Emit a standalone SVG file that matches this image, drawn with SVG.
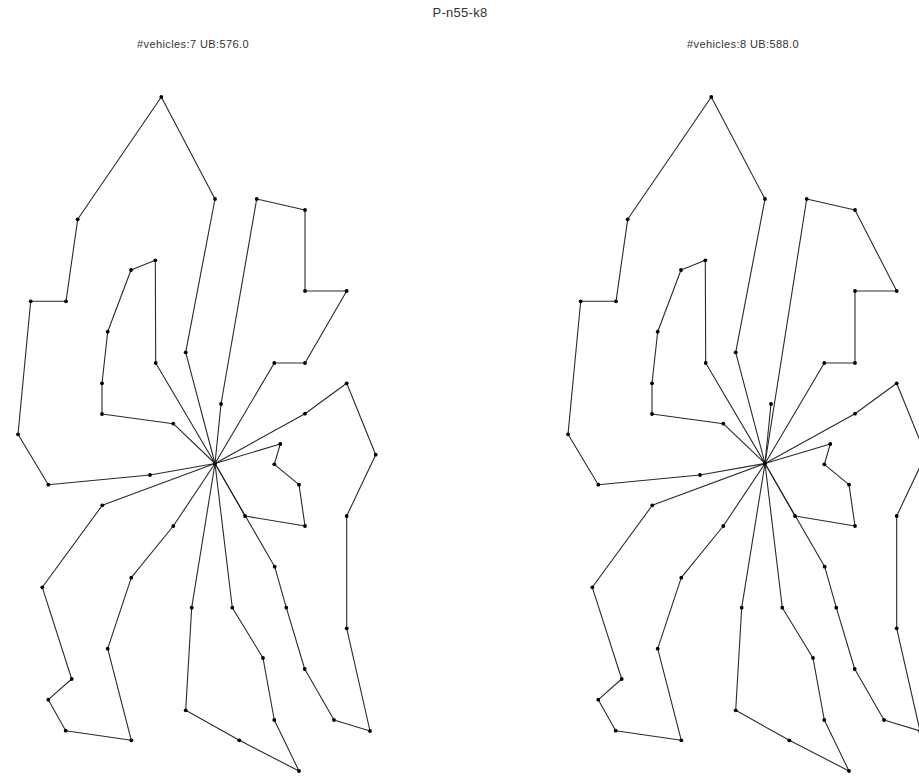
<svg xmlns="http://www.w3.org/2000/svg" xmlns:xlink="http://www.w3.org/1999/xlink" width="919" height="776" viewBox="0 0 919 776">
<style>
.r{fill:none;stroke:#2a2a2a;stroke-width:1.1;stroke-linejoin:round}
.t{font-family:"Liberation Sans",Arial,sans-serif;fill:#333;text-anchor:middle}
</style>
<defs>
<circle id="d" r="1.9" fill="#000"/>
</defs>
<rect width="919" height="776" fill="#fff"/>
<text class="t" x="460" y="17" font-size="13" letter-spacing="0.3">P-n55-k8</text>
<text class="t" x="193" y="48" font-size="11" letter-spacing="0.4">#vehicles:7 UB:576.0</text>
<text class="t" x="743" y="48" font-size="11" letter-spacing="0.4">#vehicles:8 UB:588.0</text>

<g id="plot-left">
<g id="connectors-left">
<polyline class="r" points="215,463.5 185.7,352.3 215,199 161.3,97 77.7,219.3 66,301.3 30.7,301.3 18,434.3 48.3,484.7 150,475 215,463.5"/>
<polyline class="r" points="215,463.5 173.3,423.7 102,414 102,383.3 107.7,331.7 131,270 155.3,260.3 155.7,363 215,463.5"/>
<polyline class="r" points="215,463.5 221,404 256.7,199 305,210 305,291 346.7,291 305,363 274.3,363 215,463.5"/>
<polyline class="r" points="215,463.5 274.7,566.7 286.3,607.7 304.7,669 334,720 370,731 346.7,628.3 346.7,516 375.7,454.7 346.7,383.3 305,413.7 215,463.5"/>
<polyline class="r" points="215,463.5 245,516 305,526 299,484.7 274.3,464.3 280.3,444 215,463.5"/>
<polyline class="r" points="215,463.5 232.3,607.7 263,658 274.3,720 299,771 239.3,740.3 185.7,710.3 191.7,607.7 215,463.5"/>
<polyline class="r" points="215,463.5 173.3,526 131.3,577.7 107.7,648.7 131.3,740.3 65.7,730.7 48.3,699.7 71.7,679 42.3,587.3 102.3,505.3 215,463.5"/>
</g>
<g id="nodes-left">
<g id="L0"><use xlink:href="#d" x="215" y="463.5"/></g>
<g id="L1"><use xlink:href="#d" x="185.7" y="352.3"/></g>
<g id="L2"><use xlink:href="#d" x="215" y="199"/></g>
<g id="L3"><use xlink:href="#d" x="161.3" y="97"/></g>
<g id="L4"><use xlink:href="#d" x="77.7" y="219.3"/></g>
<g id="L5"><use xlink:href="#d" x="66" y="301.3"/></g>
<g id="L6"><use xlink:href="#d" x="30.7" y="301.3"/></g>
<g id="L7"><use xlink:href="#d" x="18" y="434.3"/></g>
<g id="L8"><use xlink:href="#d" x="48.3" y="484.7"/></g>
<g id="L9"><use xlink:href="#d" x="150" y="475"/></g>
<g id="L10"><use xlink:href="#d" x="173.3" y="423.7"/></g>
<g id="L11"><use xlink:href="#d" x="102" y="414"/></g>
<g id="L12"><use xlink:href="#d" x="102" y="383.3"/></g>
<g id="L13"><use xlink:href="#d" x="107.7" y="331.7"/></g>
<g id="L14"><use xlink:href="#d" x="131" y="270"/></g>
<g id="L15"><use xlink:href="#d" x="155.3" y="260.3"/></g>
<g id="L16"><use xlink:href="#d" x="155.7" y="363"/></g>
<g id="L17"><use xlink:href="#d" x="221" y="404"/></g>
<g id="L18"><use xlink:href="#d" x="256.7" y="199"/></g>
<g id="L19"><use xlink:href="#d" x="305" y="210"/></g>
<g id="L20"><use xlink:href="#d" x="305" y="291"/></g>
<g id="L21"><use xlink:href="#d" x="346.7" y="291"/></g>
<g id="L22"><use xlink:href="#d" x="305" y="363"/></g>
<g id="L23"><use xlink:href="#d" x="274.3" y="363"/></g>
<g id="L24"><use xlink:href="#d" x="274.7" y="566.7"/></g>
<g id="L25"><use xlink:href="#d" x="286.3" y="607.7"/></g>
<g id="L26"><use xlink:href="#d" x="304.7" y="669"/></g>
<g id="L27"><use xlink:href="#d" x="334" y="720"/></g>
<g id="L28"><use xlink:href="#d" x="370" y="731"/></g>
<g id="L29"><use xlink:href="#d" x="346.7" y="628.3"/></g>
<g id="L30"><use xlink:href="#d" x="346.7" y="516"/></g>
<g id="L31"><use xlink:href="#d" x="375.7" y="454.7"/></g>
<g id="L32"><use xlink:href="#d" x="346.7" y="383.3"/></g>
<g id="L33"><use xlink:href="#d" x="305" y="413.7"/></g>
<g id="L34"><use xlink:href="#d" x="245" y="516"/></g>
<g id="L35"><use xlink:href="#d" x="305" y="526"/></g>
<g id="L36"><use xlink:href="#d" x="299" y="484.7"/></g>
<g id="L37"><use xlink:href="#d" x="274.3" y="464.3"/></g>
<g id="L38"><use xlink:href="#d" x="280.3" y="444"/></g>
<g id="L39"><use xlink:href="#d" x="232.3" y="607.7"/></g>
<g id="L40"><use xlink:href="#d" x="263" y="658"/></g>
<g id="L41"><use xlink:href="#d" x="274.3" y="720"/></g>
<g id="L42"><use xlink:href="#d" x="299" y="771"/></g>
<g id="L43"><use xlink:href="#d" x="239.3" y="740.3"/></g>
<g id="L44"><use xlink:href="#d" x="185.7" y="710.3"/></g>
<g id="L45"><use xlink:href="#d" x="191.7" y="607.7"/></g>
<g id="L46"><use xlink:href="#d" x="173.3" y="526"/></g>
<g id="L47"><use xlink:href="#d" x="131.3" y="577.7"/></g>
<g id="L48"><use xlink:href="#d" x="107.7" y="648.7"/></g>
<g id="L49"><use xlink:href="#d" x="131.3" y="740.3"/></g>
<g id="L50"><use xlink:href="#d" x="65.7" y="730.7"/></g>
<g id="L51"><use xlink:href="#d" x="48.3" y="699.7"/></g>
<g id="L52"><use xlink:href="#d" x="71.7" y="679"/></g>
<g id="L53"><use xlink:href="#d" x="42.3" y="587.3"/></g>
<g id="L54"><use xlink:href="#d" x="102.3" y="505.3"/></g>
</g>
</g>

<g id="plot-right" transform="translate(550,0)">
<g id="connectors-right">
<polyline class="r" points="215,463.5 185.7,352.3 215,199 161.3,97 77.7,219.3 66,301.3 30.7,301.3 18,434.3 48.3,484.7 150,475 215,463.5"/>
<polyline class="r" points="215,463.5 173.3,423.7 102,414 102,383.3 107.7,331.7 131,270 155.3,260.3 155.7,363 215,463.5"/>
<polyline class="r" points="215,463.5 256.7,199 305,210 346.7,291 305,291 305,363 274.3,363 215,463.5"/>
<polyline class="r" points="215,463.5 221,404 215,463.5"/>
<polyline class="r" points="215,463.5 274.7,566.7 286.3,607.7 304.7,669 334,720 370,731 346.7,628.3 346.7,516 375.7,454.7 346.7,383.3 305,413.7 215,463.5"/>
<polyline class="r" points="215,463.5 245,516 305,526 299,484.7 274.3,464.3 280.3,444 215,463.5"/>
<polyline class="r" points="215,463.5 232.3,607.7 263,658 274.3,720 299,771 239.3,740.3 185.7,710.3 191.7,607.7 215,463.5"/>
<polyline class="r" points="215,463.5 173.3,526 131.3,577.7 107.7,648.7 131.3,740.3 65.7,730.7 48.3,699.7 71.7,679 42.3,587.3 102.3,505.3 215,463.5"/>
</g>
<g id="nodes-right">
<g id="R0"><use xlink:href="#d" x="215" y="463.5"/></g>
<g id="R1"><use xlink:href="#d" x="185.7" y="352.3"/></g>
<g id="R2"><use xlink:href="#d" x="215" y="199"/></g>
<g id="R3"><use xlink:href="#d" x="161.3" y="97"/></g>
<g id="R4"><use xlink:href="#d" x="77.7" y="219.3"/></g>
<g id="R5"><use xlink:href="#d" x="66" y="301.3"/></g>
<g id="R6"><use xlink:href="#d" x="30.7" y="301.3"/></g>
<g id="R7"><use xlink:href="#d" x="18" y="434.3"/></g>
<g id="R8"><use xlink:href="#d" x="48.3" y="484.7"/></g>
<g id="R9"><use xlink:href="#d" x="150" y="475"/></g>
<g id="R10"><use xlink:href="#d" x="173.3" y="423.7"/></g>
<g id="R11"><use xlink:href="#d" x="102" y="414"/></g>
<g id="R12"><use xlink:href="#d" x="102" y="383.3"/></g>
<g id="R13"><use xlink:href="#d" x="107.7" y="331.7"/></g>
<g id="R14"><use xlink:href="#d" x="131" y="270"/></g>
<g id="R15"><use xlink:href="#d" x="155.3" y="260.3"/></g>
<g id="R16"><use xlink:href="#d" x="155.7" y="363"/></g>
<g id="R17"><use xlink:href="#d" x="221" y="404"/></g>
<g id="R18"><use xlink:href="#d" x="256.7" y="199"/></g>
<g id="R19"><use xlink:href="#d" x="305" y="210"/></g>
<g id="R20"><use xlink:href="#d" x="305" y="291"/></g>
<g id="R21"><use xlink:href="#d" x="346.7" y="291"/></g>
<g id="R22"><use xlink:href="#d" x="305" y="363"/></g>
<g id="R23"><use xlink:href="#d" x="274.3" y="363"/></g>
<g id="R24"><use xlink:href="#d" x="274.7" y="566.7"/></g>
<g id="R25"><use xlink:href="#d" x="286.3" y="607.7"/></g>
<g id="R26"><use xlink:href="#d" x="304.7" y="669"/></g>
<g id="R27"><use xlink:href="#d" x="334" y="720"/></g>
<g id="R28"><use xlink:href="#d" x="370" y="731"/></g>
<g id="R29"><use xlink:href="#d" x="346.7" y="628.3"/></g>
<g id="R30"><use xlink:href="#d" x="346.7" y="516"/></g>
<g id="R31"><use xlink:href="#d" x="375.7" y="454.7"/></g>
<g id="R32"><use xlink:href="#d" x="346.7" y="383.3"/></g>
<g id="R33"><use xlink:href="#d" x="305" y="413.7"/></g>
<g id="R34"><use xlink:href="#d" x="245" y="516"/></g>
<g id="R35"><use xlink:href="#d" x="305" y="526"/></g>
<g id="R36"><use xlink:href="#d" x="299" y="484.7"/></g>
<g id="R37"><use xlink:href="#d" x="274.3" y="464.3"/></g>
<g id="R38"><use xlink:href="#d" x="280.3" y="444"/></g>
<g id="R39"><use xlink:href="#d" x="232.3" y="607.7"/></g>
<g id="R40"><use xlink:href="#d" x="263" y="658"/></g>
<g id="R41"><use xlink:href="#d" x="274.3" y="720"/></g>
<g id="R42"><use xlink:href="#d" x="299" y="771"/></g>
<g id="R43"><use xlink:href="#d" x="239.3" y="740.3"/></g>
<g id="R44"><use xlink:href="#d" x="185.7" y="710.3"/></g>
<g id="R45"><use xlink:href="#d" x="191.7" y="607.7"/></g>
<g id="R46"><use xlink:href="#d" x="173.3" y="526"/></g>
<g id="R47"><use xlink:href="#d" x="131.3" y="577.7"/></g>
<g id="R48"><use xlink:href="#d" x="107.7" y="648.7"/></g>
<g id="R49"><use xlink:href="#d" x="131.3" y="740.3"/></g>
<g id="R50"><use xlink:href="#d" x="65.7" y="730.7"/></g>
<g id="R51"><use xlink:href="#d" x="48.3" y="699.7"/></g>
<g id="R52"><use xlink:href="#d" x="71.7" y="679"/></g>
<g id="R53"><use xlink:href="#d" x="42.3" y="587.3"/></g>
<g id="R54"><use xlink:href="#d" x="102.3" y="505.3"/></g>
</g>
</g>
</svg>
